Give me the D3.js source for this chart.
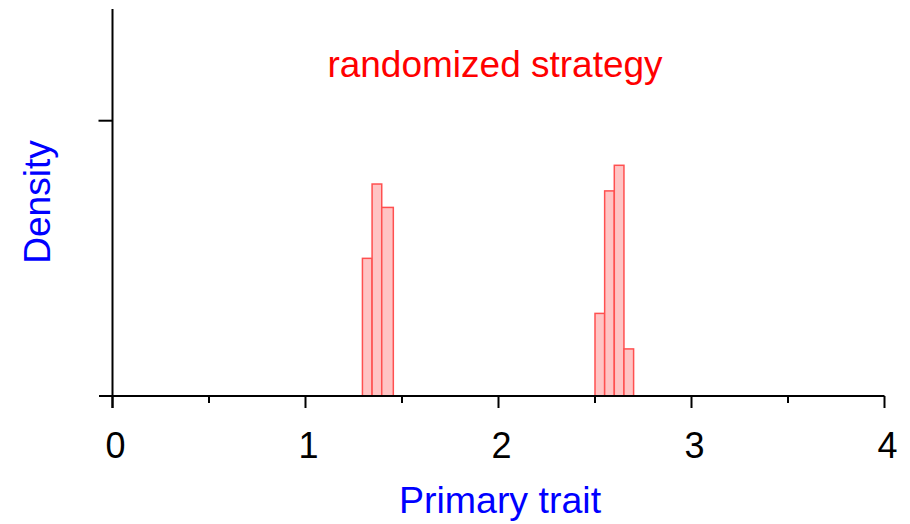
<!DOCTYPE html>
<html>
<head>
<meta charset="utf-8">
<script src="https://cdn.jsdelivr.net/npm/d3@7"></script>
<style>
  body { margin: 0; background: #fff; }
  text { font-family: 'Liberation Sans', Arial, sans-serif; }
</style>
</head>
<body>
<script>
const width = 910
const height = 524

// histogram bins (left / right edge) and densities
const binStarts = [1.295, 1.345, 1.395, 2.50, 2.55, 2.60, 2.65]
const binEnds = [1.345, 1.395, 1.455, 2.55, 2.60, 2.65, 2.70]
const densities = [0.50, 0.77, 0.685, 0.30, 0.745, 0.838, 0.171]

const xMajor = [0, 1, 2, 3, 4]
const xMinor = [0.5, 1.5, 2.5, 3.5]
const yTicks = [1]

const title = 'randomized strategy'
const xLabel = 'Primary trait'
const yLabel = 'Density'

const x = d3.scaleLinear().domain([0, 4]).range([112.5, 884.5])
const y = d3.scaleLinear().domain([0, 1]).range([396, 120.7])

let svg = d3.select('body').append('svg')
  .attr('width', width)
  .attr('height', height)

// bars
svg.append('g')
  .selectAll('rect')
  .data(binStarts)
  .enter()
  .append('rect')
  .attr('x', (d) => x(d))
  .attr('y', (d, i) => y(densities[i]))
  .attr('width', (d, i) => x(binEnds[i]) - x(d))
  .attr('height', (d, i) => y(0) - y(densities[i]))
  .attr('fill', '#ffc4c4')
  .attr('stroke', '#ff5050')
  .attr('stroke-width', 1.5)

// x axis
let xAxis = svg.append('g')
xAxis.append('line')
  .attr('x1', 99).attr('x2', x(4))
  .attr('y1', y(0)).attr('y2', y(0))
  .attr('stroke', '#000').attr('stroke-width', 2)

xAxis.selectAll('.major')
  .data(xMajor)
  .enter()
  .append('line')
  .attr('x1', (d) => x(d)).attr('x2', (d) => x(d))
  .attr('y1', y(0)).attr('y2', y(0) + 12)
  .attr('stroke', '#000').attr('stroke-width', 2)

xAxis.selectAll('.minor')
  .data(xMinor)
  .enter()
  .append('line')
  .attr('x1', (d) => x(d)).attr('x2', (d) => x(d))
  .attr('y1', y(0)).attr('y2', y(0) + 7)
  .attr('stroke', '#000').attr('stroke-width', 2)

xAxis.selectAll('text')
  .data(xMajor)
  .enter()
  .append('text')
  .attr('x', (d) => x(d) + 3)
  .attr('y', 458)
  .attr('text-anchor', 'middle')
  .attr('font-size', 36)
  .text((d) => d)

// y axis
let yAxis = svg.append('g')
yAxis.append('line')
  .attr('x1', x(0)).attr('x2', x(0))
  .attr('y1', 9).attr('y2', y(0) + 12)
  .attr('stroke', '#000').attr('stroke-width', 2)

yAxis.selectAll('.tick')
  .data(yTicks)
  .enter()
  .append('line')
  .attr('x1', x(0) - 14).attr('x2', x(0))
  .attr('y1', (d) => y(d)).attr('y2', (d) => y(d))
  .attr('stroke', '#000').attr('stroke-width', 2)

// labels
svg.append('text')
  .attr('x', 495)
  .attr('y', 77)
  .attr('text-anchor', 'middle')
  .attr('font-size', 37)
  .attr('fill', '#ff0000')
  .text(title)

svg.append('text')
  .attr('x', 500)
  .attr('y', 513)
  .attr('text-anchor', 'middle')
  .attr('font-size', 37.5)
  .attr('fill', '#0000ff')
  .text(xLabel)

svg.append('text')
  .attr('transform', 'translate(50,202) rotate(-90)')
  .attr('text-anchor', 'middle')
  .attr('font-size', 37)
  .attr('fill', '#0000ff')
  .text(yLabel)
</script>
</body>
</html>
